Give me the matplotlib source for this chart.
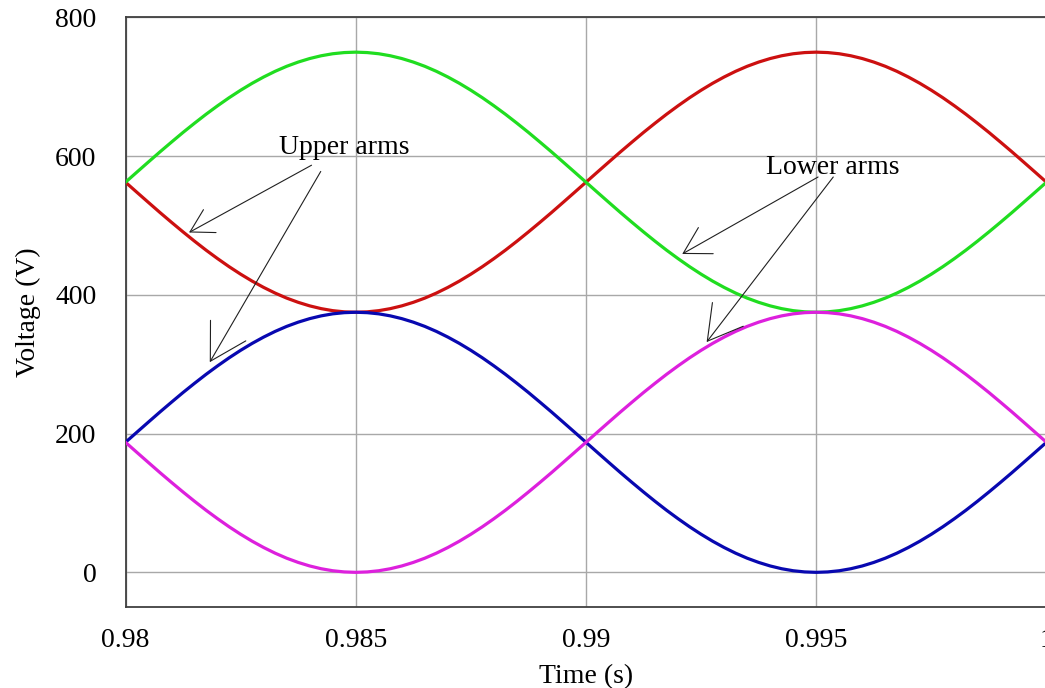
import numpy as np
import matplotlib
matplotlib.use("Agg")
import matplotlib.pyplot as plt

plt.rcParams['font.family'] = ['Liberation Serif', 'DejaVu Serif']

# Sampling instants (s), every 0.25 ms over one 50 Hz cycle
time = np.linspace(0.98, 1.0, 81)

# Arm capacitor voltages (V)
upper_arm_a = [
    562.5, 547.8, 533.2, 518.7, 504.6, 490.8, 477.4, 464.5, 452.3, 440.7, 429.9,
    419.9, 410.8, 402.6, 395.4, 389.3, 384.2, 380.2, 377.3, 375.6, 375.0,
    375.6, 377.3, 380.2, 384.2, 389.3, 395.4, 402.6, 410.8, 419.9, 429.9,
    440.7, 452.3, 464.5, 477.4, 490.8, 504.6, 518.7, 533.2, 547.8, 562.5,
    577.2, 591.8, 606.3, 620.4, 634.3, 647.6, 660.5, 672.7, 684.3, 695.1,
    705.1, 714.2, 722.4, 729.6, 735.7, 740.8, 744.8, 747.7, 749.4, 750.0,
    749.4, 747.7, 744.8, 740.8, 735.7, 729.6, 722.4, 714.2, 705.1, 695.1,
    684.3, 672.7, 660.5, 647.6, 634.3, 620.4, 606.3, 591.8, 577.2, 562.5,
]
lower_arm_a = [
    562.5, 577.2, 591.8, 606.3, 620.4, 634.3, 647.6, 660.5, 672.7, 684.3, 695.1,
    705.1, 714.2, 722.4, 729.6, 735.7, 740.8, 744.8, 747.7, 749.4, 750.0,
    749.4, 747.7, 744.8, 740.8, 735.7, 729.6, 722.4, 714.2, 705.1, 695.1,
    684.3, 672.7, 660.5, 647.6, 634.3, 620.4, 606.3, 591.8, 577.2, 562.5,
    547.8, 533.2, 518.7, 504.6, 490.8, 477.4, 464.5, 452.3, 440.7, 429.9,
    419.9, 410.8, 402.6, 395.4, 389.3, 384.2, 380.2, 377.3, 375.6, 375.0,
    375.6, 377.3, 380.2, 384.2, 389.3, 395.4, 402.6, 410.8, 419.9, 429.9,
    440.7, 452.3, 464.5, 477.4, 490.8, 504.6, 518.7, 533.2, 547.8, 562.5,
]
upper_arm_b = [
    187.5, 202.2, 216.8, 231.3, 245.4, 259.3, 272.6, 285.5, 297.7, 309.3, 320.1,
    330.1, 339.2, 347.4, 354.6, 360.7, 365.8, 369.8, 372.7, 374.4, 375.0,
    374.4, 372.7, 369.8, 365.8, 360.7, 354.6, 347.4, 339.2, 330.1, 320.1,
    309.3, 297.7, 285.5, 272.6, 259.3, 245.4, 231.3, 216.8, 202.2, 187.5,
    172.8, 158.2, 143.7, 129.6, 115.8, 102.4, 89.5, 77.3, 65.7, 54.9,
    44.9, 35.8, 27.6, 20.4, 14.3, 9.2, 5.2, 2.3, 0.6, 0.0,
    0.6, 2.3, 5.2, 9.2, 14.3, 20.4, 27.6, 35.8, 44.9, 54.9,
    65.7, 77.3, 89.5, 102.4, 115.8, 129.6, 143.7, 158.2, 172.8, 187.5,
]
lower_arm_b = [
    187.5, 172.8, 158.2, 143.7, 129.6, 115.8, 102.4, 89.5, 77.3, 65.7, 54.9,
    44.9, 35.8, 27.6, 20.4, 14.3, 9.2, 5.2, 2.3, 0.6, 0.0,
    0.6, 2.3, 5.2, 9.2, 14.3, 20.4, 27.6, 35.8, 44.9, 54.9,
    65.7, 77.3, 89.5, 102.4, 115.8, 129.6, 143.7, 158.2, 172.8, 187.5,
    202.2, 216.8, 231.3, 245.4, 259.3, 272.6, 285.5, 297.7, 309.3, 320.1,
    330.1, 339.2, 347.4, 354.6, 360.7, 365.8, 369.8, 372.7, 374.4, 375.0,
    374.4, 372.7, 369.8, 365.8, 360.7, 354.6, 347.4, 339.2, 330.1, 320.1,
    309.3, 297.7, 285.5, 272.6, 259.3, 245.4, 231.3, 216.8, 202.2, 187.5,
]

x_ticks = [0.98, 0.985, 0.99, 0.995, 1.0]
x_tick_labels = ['0.98', '0.985', '0.99', '0.995', '1']
y_ticks = [0, 200, 400, 600, 800]

fig = plt.figure(figsize=(10.45, 6.88), dpi=100)
ax = fig.add_axes([0.1201, 0.1177, 0.8813, 0.8569])

lw = 2.3
ax.plot(time, upper_arm_a, color='#cc1010', lw=lw, zorder=3)
ax.plot(time, upper_arm_b, color='#0808b0', lw=lw, zorder=3)
ax.plot(time, lower_arm_a, color='#20dd20', lw=lw, zorder=4)
ax.plot(time, lower_arm_b, color='#dd20dd', lw=lw, zorder=4)

ax.set_xlim(0.98, 1.0)
ax.set_ylim(-50, 800)
ax.set_xticks(x_ticks)
ax.set_xticklabels(x_tick_labels)
ax.set_yticks(y_ticks)
ax.tick_params(length=0, labelsize=20, colors='black')
ax.tick_params(axis='x', pad=15)
ax.tick_params(axis='y', pad=21)
ax.grid(True, color='#a8a8a8', lw=1.0)
ax.set_axisbelow(True)
for s in ax.spines.values():
    s.set_color('#404040')
    s.set_linewidth(1.3)

ax.set_xlabel('Time (s)', fontsize=20, labelpad=8)
ax.set_ylabel('Voltage (V)', fontsize=20, labelpad=10)


def pointer(text_xy, tip_xy, head_len, head_w):
    ax.annotate('', xy=tip_xy, xytext=text_xy,
                arrowprops=dict(arrowstyle=f'->,head_length={head_len},head_width={head_w}',
                                color='#202020', lw=0.8, shrinkA=0, shrinkB=0),
                zorder=5)


ax.text(0.98476, 612, 'Upper arms', fontsize=20, ha='center', va='center', zorder=5)
pointer((0.98404, 587), (0.98138, 490), 1.62, 0.94)
pointer((0.98424, 578), (0.98183, 303), 2.55, 1.47)

ax.text(0.99536, 584, 'Lower arms', fontsize=20, ha='center', va='center', zorder=5)
pointer((0.99504, 570), (0.99209, 459), 1.87, 1.08)
pointer((0.99537, 570), (0.99262, 332), 2.43, 1.40)

fig.savefig('out.png', dpi=100)
